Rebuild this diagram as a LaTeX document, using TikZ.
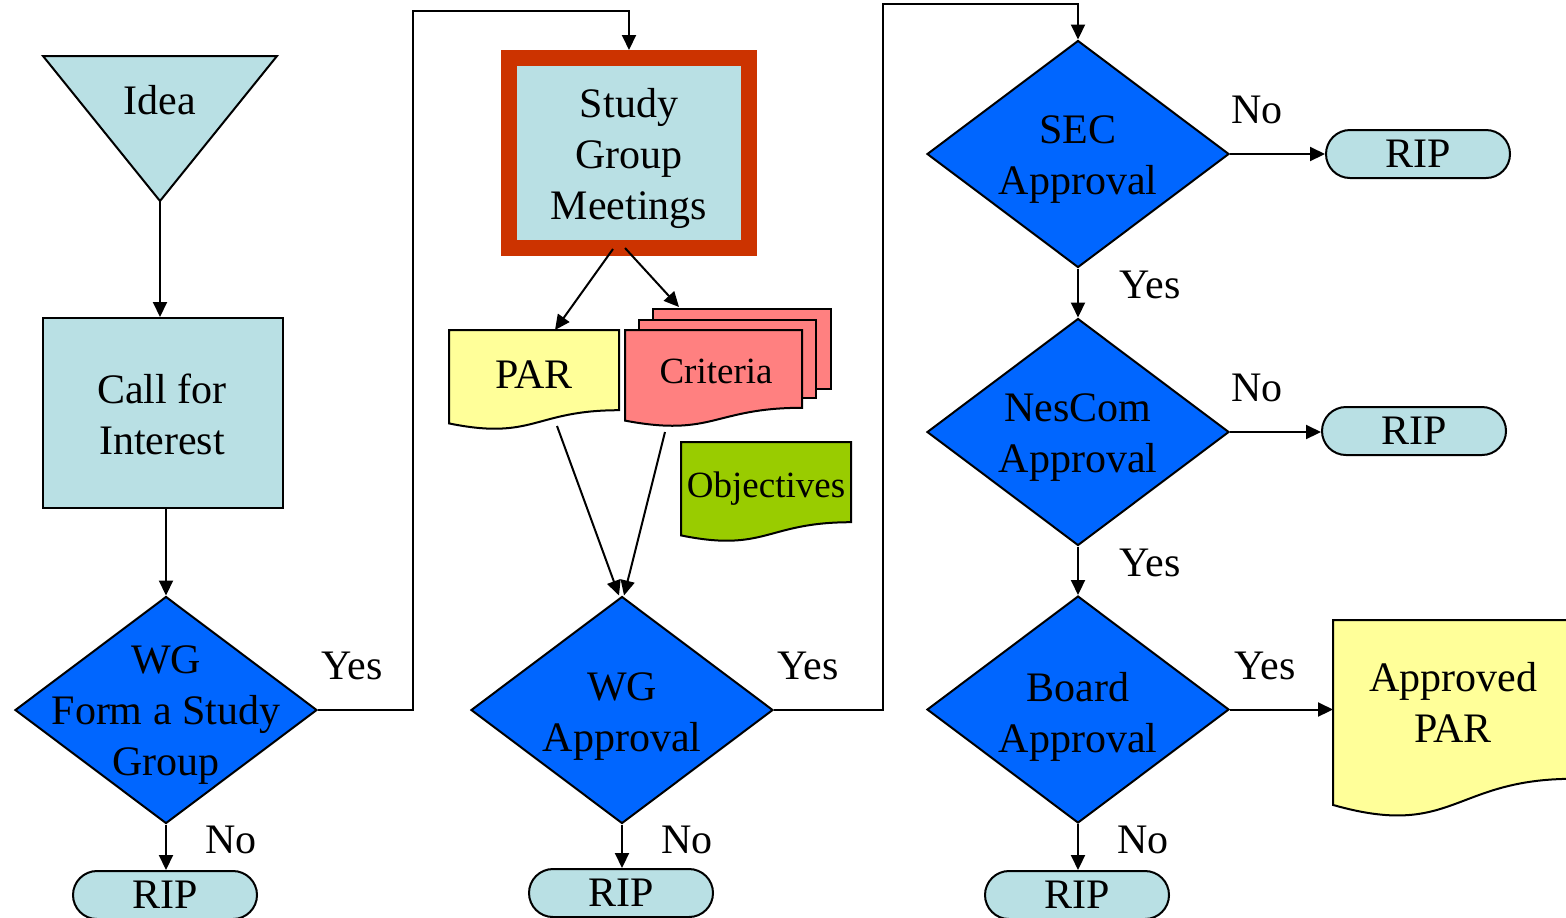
\documentclass[tikz,border=0pt]{standalone}
\usepackage{fontspec}
\setmainfont{Liberation Serif}
\usetikzlibrary{shapes.geometric, arrows.meta, calc}
\definecolor{lblue}{RGB}{185,224,228}
\definecolor{dblue}{RGB}{0,102,255}
\definecolor{fred}{RGB}{204,51,0}
\definecolor{pyel}{RGB}{255,255,153}
\definecolor{cpink}{RGB}{255,128,128}
\definecolor{ogreen}{RGB}{153,204,0}
\newcommand\bigfont{\fontsize{21}{25.5}\selectfont}
\newcommand\smfont{\fontsize{18.5}{22}\selectfont}
\newcommand\docshape[2]{%
  \filldraw[line width=1pt, fill=#2] (#1.north west) -- (#1.north east)
    -- ($(#1.north east)!0.802!(#1.south east)$)
    .. controls ($(#1.north)!0.802!(#1.south)$) and ($(#1.north)!1.107!(#1.south)$)
    .. ($(#1.north west)!0.934!(#1.south west)$) -- cycle;}
\begin{document}
\begin{tikzpicture}[x=0.5pt,y=-0.5pt,
  shp/.style={draw=black, line width=1pt, inner sep=0pt},
  dia/.style={shp, diamond, fill=dblue, minimum width=151pt, minimum height=113.5pt},
  rip/.style={shp, rectangle, rounded corners=12pt, fill=lblue, minimum width=92pt, minimum height=24pt, font=\bigfont},
  txt/.style={inner sep=0pt, align=center, font=\bigfont},
  lab/.style={inner sep=0pt, font=\bigfont},
  docbox/.style={inner sep=0pt, outer sep=0pt},
  conn/.style={line width=1pt, -{Triangle[length=7.5pt,width=7pt]}}]
\useasboundingbox (0,0) rectangle (1566,917);
\clip (0,0) rectangle (1566,917);

% ---------- column 1
\node[docbox, minimum width=117pt, minimum height=72.5pt] (idea) at (160,128.5) {};
\filldraw[line width=1pt, fill=lblue] (idea.north west) -- (idea.north east) -- (idea.south) -- cycle;
\node[lab, anchor=base] (ideat) at (160,114) {Idea};
\node[shp, fill=lblue, minimum width=120pt, minimum height=95pt] (call) at (163,413) {};
\node[txt] (callt) at (162,414) {Call for\\Interest};
\node[dia] (d1) at (166,710) {};
\node[txt] (d1t) at (166,715.5) {WG\\Form a Study\\Group};
\node[rip] (rip1) at (165,895) {RIP};
\node[lab] (no1) at (231,840) {No};
\node[lab] (yes1) at (352,666) {Yes};

% ---------- column 2
\node[draw=fred, line width=8pt, fill=lblue, minimum width=120pt, minimum height=95pt, inner sep=0pt] (study) at (629,153) {};
\node[txt] (studyt) at (629,158) {Study\\Group\\Meetings};

\node[docbox, minimum width=85pt, minimum height=50pt] (par) at (534,380) {};
\docshape{par}{pyel}
\node[lab, anchor=base] (part) at (534,388) {PAR};

\node[shp, fill=cpink, minimum width=89pt, minimum height=40pt] (crit3) at (742,349) {};
\node[shp, fill=cpink, minimum width=88.5pt, minimum height=39pt] (crit2) at (727.5,359) {};
\node[docbox, minimum width=88.5pt, minimum height=48.5pt] (crit) at (713.5,378.5) {};
\docshape{crit}{cpink}
\node[lab, anchor=base, font=\smfont] (critt) at (716,383) {Criteria};

\node[docbox, minimum width=85pt, minimum height=50pt] (obj) at (766,492) {};
\docshape{obj}{ogreen}
\node[lab, anchor=base, font=\smfont] (objt) at (766,497) {Objectives};

\node[dia] (d2) at (622,710) {};
\node[txt] (d2t) at (622,717) {WG\\Approval};
\node[rip] (rip2) at (621,893) {RIP};
\node[lab] (no2) at (687,840) {No};
\node[lab] (yes2) at (808,666) {Yes};

% ---------- column 3
\node[dia] (sec) at (1078,154) {};
\node[txt] (sect) at (1078,160) {SEC\\Approval};
\node[dia] (nes) at (1078,432) {};
\node[txt] (nest) at (1078,438) {NesCom\\Approval};
\node[dia] (board) at (1078,709.5) {};
\node[txt] (boardt) at (1078,717) {Board\\Approval};
\node[rip] (ripsec) at (1418,154) {RIP};
\node[rip] (ripnes) at (1414,431) {RIP};
\node[rip] (rip3) at (1077,895) {RIP};
\node[docbox, minimum width=120pt, minimum height=99pt] (appr) at (1453,719) {};
\docshape{appr}{pyel}
\node[txt] (apprt) at (1453,702.5) {Approved\\PAR};
\node[lab] (no3) at (1257,110) {No};
\node[lab] (yes3) at (1150,285) {Yes};
\node[lab] (no4) at (1257,388) {No};
\node[lab] (yes4) at (1150,563) {Yes};
\node[lab] (yes5) at (1265,666) {Yes};
\node[lab] (no5) at (1143,840) {No};

% ---------- connectors
\coordinate (j1) at (413,11);
\coordinate (j2) at (883,4);
\draw[conn] (idea.south) -- (idea.south |- call.north);
\draw[conn] (d1.north |- call.south) -- (d1.north);
\draw[conn] (d1.south) -- (d1.south |- rip1.north);
\draw[conn] (d1.east) -| (j1) -| (study.north);

\draw[conn] ([xshift=-8pt,yshift=3.5pt]study.south) -- ($(par.north west)+(106,0)$);
\draw[conn] ([xshift=-2pt,yshift=4pt]study.south) -- ($(crit3.north west)+(27,-1)$);
\draw[conn] ($(par.north west)+(108,96)$) -- ([xshift=-1.5pt]d2.north);
\draw[conn] ($(crit.north west)+(40,102)$) -- ([xshift=1pt]d2.north);
\draw[conn] (d2.south) -- (d2.south |- rip2.north);
\draw[conn] (d2.east) -| (j2) -| (sec.north);

\draw[conn] (sec.east) -- (sec.east -| ripsec.west);
\draw[conn] (sec.south) -- (nes.north);
\draw[conn] (nes.east) -- (nes.east -| ripnes.west);
\draw[conn] (nes.south) -- (board.north);
\draw[conn] (board.east) -- (board.east -| appr.west);
\draw[conn] (board.south) -- (board.south |- rip3.north);
\end{tikzpicture}
\end{document}
